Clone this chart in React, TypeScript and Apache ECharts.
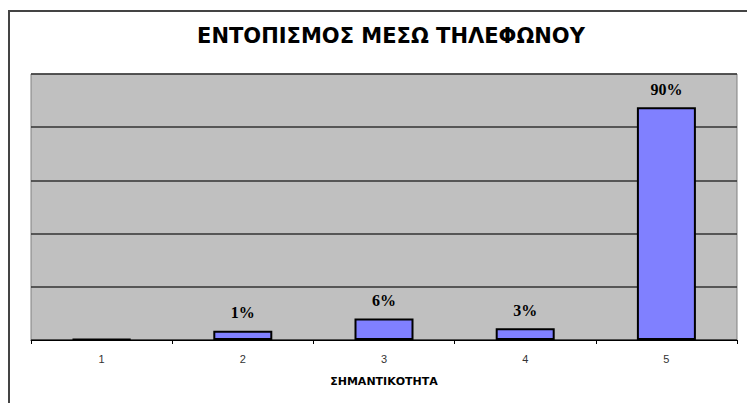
import React, { useEffect, useRef } from "react";
import * as echarts from "echarts";

const titleText = "ΕΝΤΟΠΙΣΜΟΣ ΜΕΣΩ ΤΗΛΕΦΩΝΟΥ";
const axisName = "ΣΗΜΑΝΤΙΚΟΤΗΤΑ";
const categories = ["1", "2", "3", "4", "5"];
const values = [0.3, 3.5, 8.1, 4.4, 87.5];
const valueLabels = ["", "1%", "6%", "3%", "90%"];

export default function App() {
  const ref = useRef<HTMLDivElement>(null);
  useEffect(() => {
    if (!ref.current) return;
    const chart = echarts.init(ref.current, null, { renderer: "svg" });
    chart.setOption({
      animation: false,
      backgroundColor: "#ffffff",
      title: {
        text: titleText,
        left: 386,
        textAlign: "center",
        top: 20,
        textStyle: {
          fontFamily: "DejaVu Sans, sans-serif",
          fontSize: 21,
          fontWeight: "bold",
          color: "#000",
        },
      },
      graphic: [
        {
          type: "polyline",
          shape: { points: [[9, 420], [9, 11], [760, 11]] },
          style: { stroke: "#444", lineWidth: 2, fill: "none" },
          silent: true,
        },
      ],
      grid: {
        left: 31,
        right: 10,
        top: 74,
        bottom: 63,
        show: true,
        backgroundColor: "#C0C0C0",
        borderColor: "#808080",
        borderWidth: 1,
      },
      xAxis: {
        type: "category",
        data: categories,
        name: axisName,
        nameLocation: "middle",
        nameGap: 36,
        nameTextStyle: {
          fontFamily: "DejaVu Sans, sans-serif",
          fontSize: 11,
          fontWeight: "bold",
          color: "#000",
        },
        axisLine: { lineStyle: { color: "#000", width: 1 } },
        axisTick: { show: true, length: 4, lineStyle: { color: "#000" } },
        axisLabel: {
          fontFamily: "Liberation Sans, Arial, sans-serif",
          fontSize: 11,
          color: "#333",
          margin: 13,
        },
      },
      yAxis: {
        type: "value",
        min: 0,
        max: 100,
        interval: 20,
        axisLabel: { show: false },
        axisLine: { show: false },
        axisTick: { show: false },
        splitLine: { lineStyle: { color: "#333", width: 1.5 } },
      },
      series: [
        {
          type: "bar",
          data: values.map((v, i) => ({
            value: v,
            label: {
              show: valueLabels[i] !== "",
              formatter: valueLabels[i],
            },
          })),
          barWidth: 59,
          itemStyle: { color: "#8080FF", borderColor: "#000", borderWidth: 2 },
          label: {
            position: "top",
            distance: 10,
            fontFamily: "Liberation Serif, Times New Roman, serif",
            fontSize: 16,
            fontWeight: "bold",
            color: "#000",
          },
        },
      ],
    });
    return () => chart.dispose();
  }, []);
  return (
    <div
      ref={ref}
      style={{ position: "fixed", left: 0, top: 0, width: 747, height: 403 }}
    />
  );
}
